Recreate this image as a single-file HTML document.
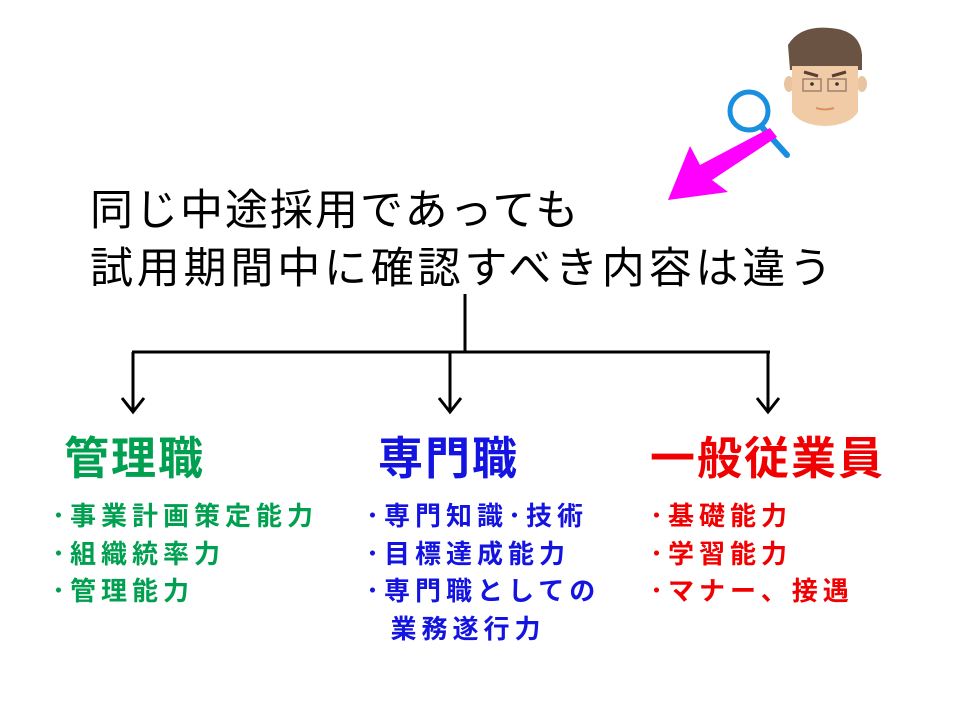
<!DOCTYPE html>
<html><head><meta charset="utf-8"><style>
body{margin:0;width:960px;height:720px;background:#fff;position:relative;overflow:hidden;font-family:"Liberation Sans","Noto Sans CJK JP",sans-serif}
.t{position:absolute;white-space:nowrap}
.title{left:90px;font-size:43px;color:#000}
.h{font-size:45px;top:422px;font-weight:bold;letter-spacing:2px}
.b{font-size:26px;font-weight:bold;line-height:37.5px;top:498px;letter-spacing:5px}
.g{color:#00a050}.bl{color:#1414e0}.r{color:#f00000}
</style></head><body>
<div class="t title" style="top:176px;letter-spacing:2px">同じ中途採用であっても</div>
<div class="t title" style="top:234px;letter-spacing:3.8px">試用期間中に確認すべき内容は違う</div>
<svg class="t" style="left:0;top:0" width="960" height="720">
<g stroke="#000" stroke-width="3" fill="none">
<line x1="465" y1="294" x2="465" y2="352"/>
<line x1="132" y1="352" x2="770" y2="352"/>
<line x1="133" y1="352" x2="133" y2="410"/>
<line x1="450" y1="352" x2="450" y2="410"/>
<line x1="768" y1="352" x2="768" y2="410"/>
<polyline points="122,398 133,412 144,398"/>
<polyline points="439,398 450,412 461,398"/>
<polyline points="757,398 768,412 779,398"/>
</g>
<line x1="760" y1="125" x2="787" y2="155" stroke="#1a8fe0" stroke-width="6" stroke-linecap="round"/>
<circle cx="749" cy="111" r="19" fill="#fff" stroke="#1a8fe0" stroke-width="5"/>
<polygon points="770,128 777,137 712,180 728,192 668,200 690,146 700,165" fill="#ff00ff"/>
<path d="M788,45 Q800,25 830,28 Q860,30 862,55 L862,70 L790,70 Z" fill="#6b5344"/>
<ellipse cx="789" cy="84" rx="5" ry="8" fill="#e8c4a0"/>
<ellipse cx="862" cy="84" rx="5" ry="8" fill="#e8c4a0"/>
<path d="M792,62 L858,62 L858,112 Q850,125 825,126 Q800,125 792,112 Z" fill="#f0cba6"/>
<path d="M792,55 Q815,48 840,50 L858,60 L858,66 L792,66 Z" fill="#6b5344"/>
<rect x="803" y="79" width="18" height="12" fill="none" stroke="#a08070" stroke-width="1.5"/>
<rect x="828" y="79" width="18" height="12" fill="none" stroke="#a08070" stroke-width="1.5"/>
<circle cx="812" cy="84" r="1.8" fill="#333"/><circle cx="837" cy="84" r="1.8" fill="#333"/>
<path d="M804,72 L818,76 M846,72 L832,76" stroke="#5a3f30" stroke-width="3"/>
<path d="M816,108 Q825,111 834,108" stroke="#e0905a" stroke-width="2" fill="none"/>
</svg>
<div class="t h g" style="left:64px">管理職</div>
<div class="t h bl" style="left:378px">専門職</div>
<div class="t h r" style="left:650px">一般従業員</div>
<div class="t b g" style="left:52px">･事業計画策定能力<br>･組織統率力<br>･管理能力</div>
<div class="t b bl" style="left:366px">･専門知識･技術<br>･目標達成能力<br>･専門職としての<br>&nbsp;&nbsp;業務遂行力</div>
<div class="t b r" style="left:650px">･基礎能力<br>･学習能力<br>･マナー、接遇</div>
</body></html>
